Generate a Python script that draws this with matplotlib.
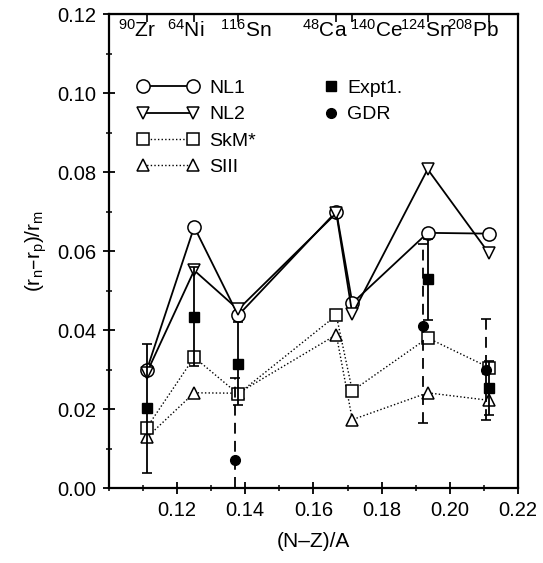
import matplotlib
matplotlib.use('Agg')
import matplotlib.pyplot as plt
from matplotlib.lines import Line2D
from matplotlib.ticker import MultipleLocator, FixedLocator

plt.rcParams['font.family'] = ['Liberation Sans', 'DejaVu Sans']
plt.rcParams['mathtext.default'] = 'regular'

# (N-Z)/A for each nucleus
nuclei = ['90Zr', '64Ni', '116Sn', '48Ca', '140Ce', '124Sn', '208Pb']
asym = [0.1111, 0.1250, 0.1379, 0.1667, 0.1714, 0.1935, 0.2115]

# calculations
nl1 = [0.0299, 0.0661, 0.0437, 0.0700, 0.0468, 0.0646, 0.0644]
nl2 = [0.0292, 0.0551, 0.0452, 0.0696, 0.0440, 0.0807, 0.0594]
skm = [0.0153, 0.0331, 0.0238, 0.0437, 0.0246, 0.0380, 0.0305]
siii = [0.0128, 0.0241, 0.0240, 0.0388, 0.0173, 0.0241, 0.0222]

# experiment
expt_x = [0.1111, 0.1250, 0.1379, 0.1935, 0.2115]
expt_y = [0.0202, 0.0434, 0.0315, 0.0528, 0.0253]
expt_err = [0.0163, 0.0126, 0.0105, 0.0103, 0.0068]

gdr_x = [0.1370, 0.1922, 0.2105]
gdr_y = [0.0071, 0.0410, 0.0299]
gdr_lo = [0.0207, 0.0246, 0.0127]
gdr_hi = [0.0207, 0.0208, 0.0128]

# top labels
top_labels = [r'$^{90}$Zr', r'$^{64}$Ni', r'$^{116}$Sn', r'$^{48}$Ca',
              r'$^{140}$Ce', r'$^{124}$Sn', r'$^{208}$Pb']
top_label_x = [0.1026, 0.1170, 0.1326, 0.1565, 0.1706, 0.1853, 0.1991]

fig = plt.figure(figsize=(5.43, 5.63), dpi=100)
ax = fig.add_axes([0.2007, 0.1332, 0.7532, 0.8419])

ms = 9
dot = (0, (1, 1.6))
ax.plot(asym, siii, ls=dot, lw=1, color='black', marker='^', ms=ms,
        mfc='white', mec='black', mew=1.1, label='SIII', zorder=2)
ax.plot(asym, skm, ls=dot, lw=1, color='black', marker='s', ms=ms - 0.5,
        mfc='white', mec='black', mew=1.1, label='SkM*', zorder=2)
ax.plot(asym, nl1, ls='-', lw=1.3, color='black', marker='o', ms=ms + 0.5,
        mfc='white', mec='black', mew=1.1, label='NL1', zorder=3)
ax.plot(asym, nl2, ls='-', lw=1.3, color='black', marker='v', ms=ms,
        mfc='white', mec='black', mew=1.1, label='NL2', zorder=3)

ax.errorbar(expt_x, expt_y, yerr=expt_err, fmt='s', color='black',
            ms=6.5, elinewidth=1.3, capsize=3.6, capthick=1.2, zorder=4)
gb = ax.errorbar(gdr_x, gdr_y, yerr=[gdr_lo, gdr_hi], fmt='o', color='black',
                 ms=7, elinewidth=1.3, capsize=3.6, capthick=1.2, zorder=4)
gb[2][0].set_linestyle((0, (6, 4)))

ax.set_xlim(0.10, 0.22)
ax.set_ylim(0.0, 0.12)
ax.xaxis.set_major_locator(FixedLocator([0.12, 0.14, 0.16, 0.18, 0.20, 0.22]))
ax.xaxis.set_minor_locator(MultipleLocator(0.01))
ax.yaxis.set_major_locator(MultipleLocator(0.02))
ax.yaxis.set_minor_locator(MultipleLocator(0.01))
ax.xaxis.set_major_formatter(plt.FormatStrFormatter('%.2f'))
ax.yaxis.set_major_formatter(plt.FormatStrFormatter('%.2f'))
ax.tick_params(which='major', direction='inout', length=8, width=1.3,
               labelsize=14.5, top=False, right=False, pad=5)
ax.tick_params(which='minor', direction='inout', length=5, width=1.1,
               top=False, right=False)
for s in ax.spines.values():
    s.set_linewidth(1.6)

top = ax.secondary_xaxis('top')
top.set_ticks(asym, labels=[''] * len(asym))
top.tick_params(direction='in', length=6, width=1.2)
top.xaxis.set_minor_locator(FixedLocator([]))

for lab, x in zip(top_labels, top_label_x):
    ax.text(x, 0.1142, lab, fontsize=15, ha='left', va='baseline')

ax.set_xlabel('(N\u2013Z)/A', fontsize=15, labelpad=9)
ax.set_ylabel('$(r_n$\u2013$r_p)/r_m$', fontsize=15, labelpad=6)

h, l = ax.get_legend_handles_labels()
hd = dict(zip(l, h))
leg1 = ax.legend([hd['NL1'], hd['NL2'], hd['SkM*'], hd['SIII']],
                 ['NL1', 'NL2', 'SkM*', 'SIII'],
                 loc='upper left', bbox_to_anchor=(0.07, 0.862),
                 frameon=False, numpoints=2, handlelength=3.13,
                 handletextpad=0.56, labelspacing=0.45, fontsize=14,
                 borderpad=0, borderaxespad=0)
ax.add_artist(leg1)
expt_h = Line2D([], [], ls='none', marker='s', ms=7, color='black')
gdr_h = Line2D([], [], ls='none', marker='o', ms=7, color='black')
ax.legend([expt_h, gdr_h], ['Expt1.', 'GDR'],
          loc='upper left', bbox_to_anchor=(0.518, 0.862),
          frameon=False, numpoints=1, handlelength=1.0,
          handletextpad=0.34, labelspacing=0.45, fontsize=14,
          borderpad=0, borderaxespad=0)

fig.savefig('out.png', dpi=100)
